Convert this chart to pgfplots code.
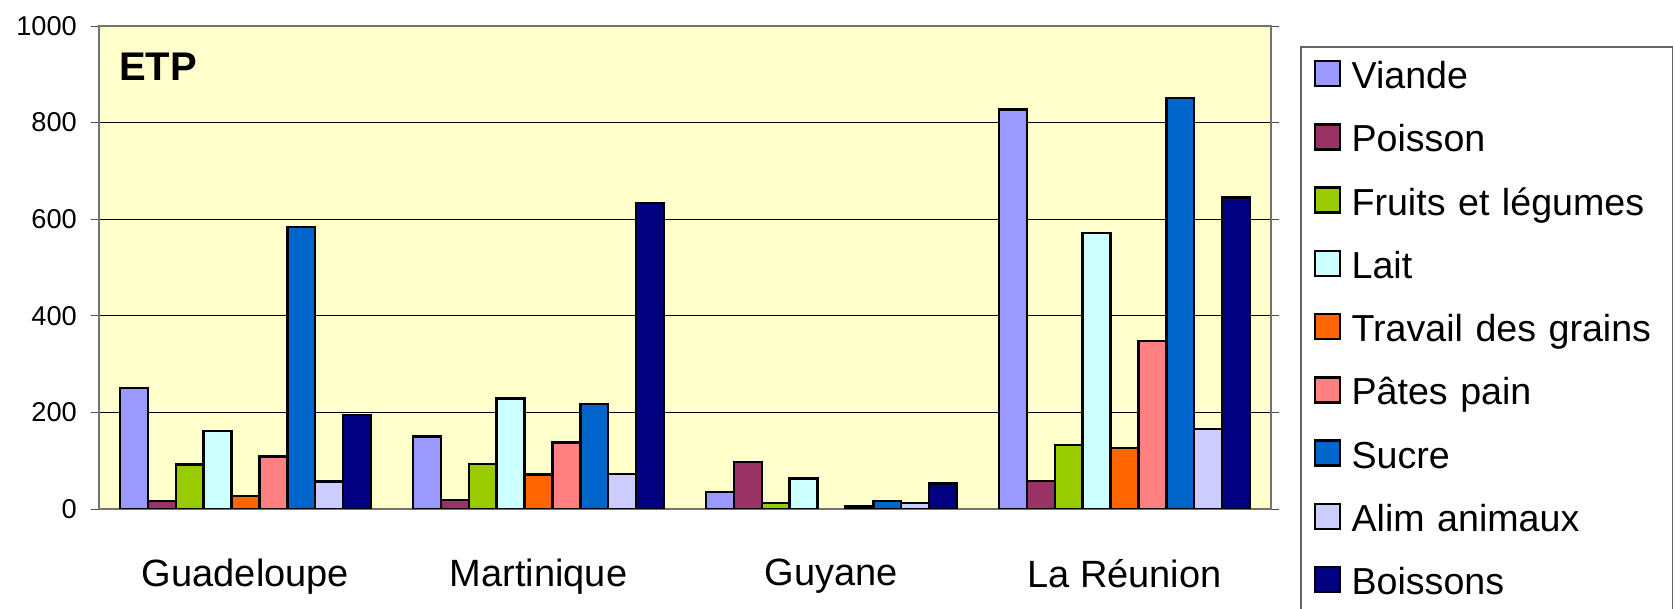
\documentclass[border=0pt]{standalone}
\usepackage{pgfplots}
\pgfplotsset{compat=1.18}
\usepackage{fontspec}
\setmainfont{Liberation Sans}

\definecolor{cViande}{HTML}{9999FF}
\definecolor{cPoisson}{HTML}{993366}
\definecolor{cFruits}{HTML}{99CC00}
\definecolor{cLait}{HTML}{CCFFFF}
\definecolor{cTravail}{HTML}{FF6600}
\definecolor{cPates}{HTML}{FF8080}
\definecolor{cSucre}{HTML}{0066CC}
\definecolor{cAlim}{HTML}{CCCCFF}
\definecolor{cBoissons}{HTML}{000080}
\definecolor{plotbg}{HTML}{FFFFCC}

\begin{document}
\begin{tikzpicture}
\begin{axis}[
  scale only axis,
  width=293pt, height=120.75pt,
  ybar=0pt, bar width=6.97pt,
  xmin=-0.5, xmax=3.5, ymin=0, ymax=1000,
  xtick={0,1,2,3},
  xticklabels={Guadeloupe,Martinique,Guyane,La Réunion},
  minor xtick={-0.5,0.5,1.5,2.5,3.5},
  ytick={0,200,400,600,800,1000},
  tick align=outside,
  major tick length=2pt, minor tick length=3.2pt,
  xtick style={draw=none},
  minor tick style={black!70},
  ytick style={black!70},
  ymajorgrids, grid style={black, line width=0.3pt},
  axis line style={black!55},
  axis background/.style={fill=plotbg},
  /pgf/number format/assume math mode=true,
  /pgf/number format/1000 sep={},
  yticklabel style={font=\fontsize{6.8}{8}\selectfont},
  xticklabel style={font=\fontsize{9.5}{11}\selectfont, yshift=-7pt},
  every axis plot/.append style={draw=black, line width=0.6pt},
  legend cell align=left,
  legend image code/.code={\draw[#1] (0pt,-1.9pt) rectangle (6.25pt,4.35pt);},
  legend style={at={(1,1)}, anchor=north west, xshift=7.25pt, yshift=-5pt,
    draw=black!60, line width=0.4pt, fill=white,
    font=\fontsize{9.4}{11}\selectfont,
    inner xsep=3.25pt, inner ysep=3.3pt,
    column sep=2.6pt, row sep=6.66pt,
    nodes={inner sep=0pt, text height=7pt, text depth=2pt, text width=77pt}},
]
\addplot[fill=cViande] coordinates {(0,250) (1,150) (2,35) (3,827)};
\addplot[fill=cPoisson] coordinates {(0,16) (1,18) (2,97) (3,58)};
\addplot[fill=cFruits] coordinates {(0,92) (1,93) (2,12) (3,133)};
\addplot[fill=cLait] coordinates {(0,161) (1,229) (2,63) (3,571)};
\addplot[fill=cTravail] coordinates {(0,27) (1,71) (3,126)};
\addplot[fill=cPates] coordinates {(0,109) (1,138) (2,5) (3,348)};
\addplot[fill=cSucre] coordinates {(0,584) (1,217) (2,17) (3,851)};
\addplot[fill=cAlim] coordinates {(0,57) (1,72) (2,12) (3,166)};
\addplot[fill=cBoissons] coordinates {(0,195) (1,634) (2,53) (3,645)};
\legend{Viande,Poisson,Fruits et légumes,Lait,Travail des grains,Pâtes pain,Sucre,Alim animaux,Boissons}
\node[font=\fontsize{10}{12}\selectfont\bfseries] at (rel axis cs:0.0503,0.915) {ETP};
\coordinate (bl) at (rel axis cs:0,0);
\end{axis}
\pgfresetboundingbox
\useasboundingbox ([xshift=-24.75pt,yshift=-25pt]bl) rectangle ([xshift=394pt,yshift=127.25pt]bl);
\end{tikzpicture}
\end{document}
